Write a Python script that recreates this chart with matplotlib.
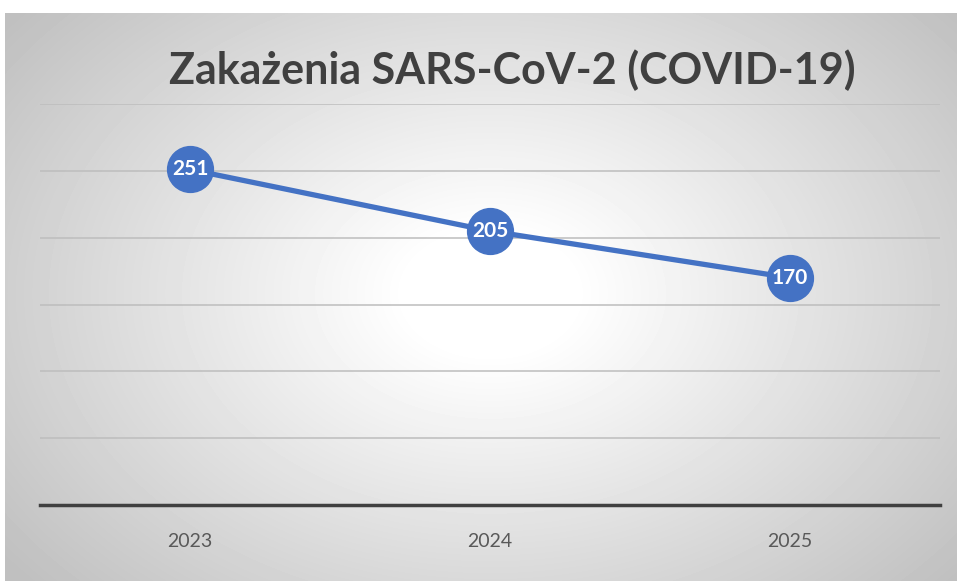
import numpy as np
import matplotlib.pyplot as plt

years = ["2023", "2024", "2025"]
cases = [251, 205, 170]
title = "Zakażenia SARS-CoV-2 (COVID-19)"

W, H = 957, 581
fig = plt.figure(figsize=(W / 100, H / 100), dpi=100)
fig.patch.set_facecolor("white")

# radial gradient background
bg = fig.add_axes([5 / W, 0, 1 - 5 / W, (H - 13) / H])
bg.axis("off")
yy, xx = np.mgrid[0:568, 0:952]
cx, cy = 485, 280
r = np.sqrt(((xx - cx) / 560.0) ** 2 + ((yy - cy) / 400.0) ** 2)
shade = 1.0 - 0.25 * np.clip(r - 0.15, 0, None) / 0.95
shade = np.clip(shade, 0.75, 1.0)
bg.imshow(shade, cmap="gray", vmin=0, vmax=1, aspect="auto", interpolation="bilinear")

ax = fig.add_axes([40 / W, (H - 505) / H, 900 / W, (505 - 104) / H])
ax.set_facecolor("none")
x = np.arange(len(years))
ax.set_xlim(-0.5, len(years) - 0.5)
ax.set_ylim(0, 300)
ax.set_yticks(np.arange(0, 301, 50))
ax.yaxis.grid(True, color="#bdbdbd", linewidth=1.1)
ax.set_axisbelow(True)
for s in ["top", "right", "left"]:
    ax.spines[s].set_visible(False)
ax.spines["bottom"].set_color("#404040")
ax.spines["bottom"].set_linewidth(2.5)
ax.tick_params(axis="y", left=False, labelleft=False)
ax.tick_params(axis="x", bottom=False, pad=17)
ax.set_xticks(x)
ax.set_xticklabels(years, fontsize=14, color="#595959", family="Lato")

ax.plot(x, cases, color="#4472C4", linewidth=3.8, marker="o", markersize=33,
        markerfacecolor="#4472C4", markeredgecolor="#4472C4", clip_on=False, zorder=3)
for xi, v in zip(x, cases):
    ax.text(xi, v, str(v), ha="center", va="center", color="white",
            fontsize=15, fontweight="bold", family="Lato", zorder=4)

fig.text(512 / W, 1 - 70 / H, title, ha="center", va="center", fontsize=31,
         fontweight="bold", color="#404040", family="Lato")

fig.savefig("out.png", dpi=100)
